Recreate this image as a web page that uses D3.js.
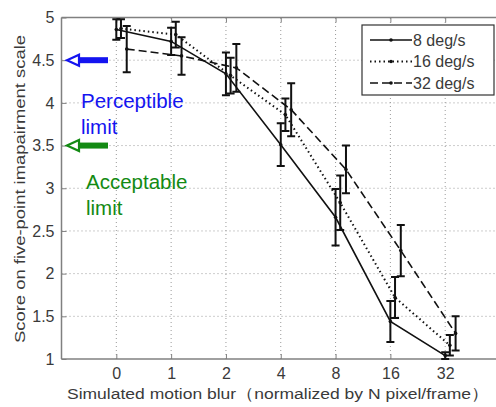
<!DOCTYPE html>
<html><head><meta charset="utf-8">
<script src="https://cdn.jsdelivr.net/npm/d3@7"></script>
<style>body{margin:0;background:#fff}svg{display:block}</style>
</head><body>
<script>
const categories = ["0","1","2","4","8","16","32"];
const yTicks = [1,1.5,2,2.5,3,3.5,4,4.5,5];
const seriesNames = ["8 deg/s","16 deg/s","32 deg/s"];
const mean8  = [4.86, 4.72, 4.34, 3.51, 2.66, 1.44, 1.04];
const err8   = [0.12, 0.16, 0.25, 0.25, 0.33, 0.24, 0.04];
const mean16 = [4.87, 4.80, 4.32, 3.86, 2.83, 1.72, 1.16];
const err16  = [0.11, 0.15, 0.21, 0.19, 0.32, 0.24, 0.12];
const mean32 = [4.63, 4.55, 4.41, 3.92, 3.22, 2.27, 1.30];
const err32  = [0.27, 0.22, 0.28, 0.31, 0.28, 0.30, 0.20];
const annotations = [
  {value:4.5, lines:["Perceptible","limit"], color:"#1414f0"},
  {value:3.5, lines:["Acceptable","limit"], color:"#138a13"}
];

const W=496,H=407;
const svg=d3.select("body").append("svg").attr("width",W).attr("height",H);
const x=d3.scaleLinear().domain([-1,7]).range([61.5,500]);
const y=d3.scaleLinear().domain([1,5]).range([359,17.5]);
const axisCol="#808080", txtCol="#3a3a3a";
const font="'Liberation Sans', Arial, sans-serif";

// grid
const g=svg.append("g");
g.selectAll(".gy").data(yTicks.filter(v=>v>1&&v<5)).enter().append("line")
 .attr("x1",x(-1)).attr("x2",W).attr("y1",d=>y(d)).attr("y2",d=>y(d))
 .attr("stroke","#9a9a9a").attr("stroke-width",1).attr("stroke-dasharray","1,3");
g.selectAll(".gx").data(d3.range(categories.length)).enter().append("line")
 .attr("x1",d=>x(d)).attr("x2",d=>x(d)).attr("y1",y(1)).attr("y2",y(5))
 .attr("stroke","#9a9a9a").attr("stroke-width",1).attr("stroke-dasharray","1,3");

// axes
const xAxis=d3.axisBottom(x).tickValues(d3.range(categories.length)).tickFormat(i=>categories[i]).tickSizeInner(-5).tickSizeOuter(0).tickPadding(9);
const ax=svg.append("g").attr("transform",`translate(0,${y(1)})`).call(xAxis);
const yAxis=d3.axisLeft(y).tickValues(yTicks).tickFormat(d3.format("")).tickSizeInner(-5).tickSizeOuter(0).tickPadding(7);
const ay=svg.append("g").attr("transform",`translate(${x(-1)},0)`).call(yAxis);
const xTop=d3.axisTop(x).tickValues(d3.range(categories.length)).tickFormat("").tickSizeInner(-5).tickSizeOuter(0);
const at=svg.append("g").attr("transform",`translate(0,${y(5)})`).call(xTop);
[ax,ay,at].forEach(a=>{
  a.select(".domain").attr("stroke",axisCol).attr("stroke-width",1.5);
  a.selectAll(".tick line").attr("stroke",axisCol).attr("stroke-width",1);
  a.selectAll(".tick text").attr("fill",txtCol).attr("font-family",font).attr("font-size",16);
});
ay.select(".domain").attr("d",`M0,${y(5)}V${y(1)}`);
ax.select(".domain").attr("d",`M${x(-1)},0H${W+5}`);
at.select(".domain").attr("d",`M${x(-1)},0H${W+5}`);

// axis labels
svg.append("text").attr("x",278).attr("y",399).attr("text-anchor","middle")
 .attr("font-family",font).attr("font-size",15.5).attr("fill",txtCol)
 .attr("textLength",422).attr("lengthAdjust","spacingAndGlyphs")
 .text("Simulated motion blur\uFF08normalized by N pixel/frame\uFF09");
svg.append("text").attr("transform","translate(25,189) rotate(-90)").attr("text-anchor","middle")
 .attr("font-family",font).attr("font-size",15.5).attr("fill",txtCol)
 .attr("textLength",308).attr("lengthAdjust","spacingAndGlyphs")
 .text("Score on five-point imapairment scale");

// series
const offsets=[0,0.085,0.19];
const dashes=[null,"1.5,3","8,4"];
const means=[mean8,mean16,mean32], errs=[err8,err16,err32];
means.forEach((m,s)=>{
  const pts=m.map((v,i)=>[x(i+offsets[s]),y(v)]);
  svg.append("path").attr("d",d3.line()(pts)).attr("fill","none").attr("stroke","#111")
   .attr("stroke-width",s===1?2:1.6).attr("stroke-dasharray",dashes[s]);
  const eg=svg.append("g");
  m.forEach((v,i)=>{
    const cx=x(i+offsets[s]), lo=y(v-errs[s][i]), hi=y(v+errs[s][i]);
    eg.append("path").attr("d",`M${cx},${lo}V${hi}M${cx-4},${lo}H${cx+4}M${cx-4},${hi}H${cx+4}`)
      .attr("stroke","#111").attr("stroke-width",2).attr("fill","none");
    eg.append("circle").attr("cx",cx).attr("cy",y(v)).attr("r",1.8).attr("fill","#111");
  });
});

// legend
const lg=svg.append("g");
lg.append("rect").attr("x",362).attr("y",25).attr("width",132).attr("height",70)
 .attr("fill","#fff").attr("stroke","#333").attr("stroke-width",1.2);
seriesNames.forEach((n,s)=>{
  const yy=40+s*21.5;
  lg.append("line").attr("x1",370).attr("x2",412).attr("y1",yy).attr("y2",yy)
   .attr("stroke","#111").attr("stroke-width",s===1?2:1.6).attr("stroke-dasharray",dashes[s]);
  lg.append("circle").attr("cx",391).attr("cy",yy).attr("r",1.8).attr("fill","#111");
  lg.append("text").attr("x",413).attr("y",yy+5.5).attr("font-family",font).attr("font-size",16)
   .attr("fill",txtCol).text(n);
});

// annotations
const ag=svg.append("g");
annotations.forEach((a,k)=>{
  const yy=y(a.value);
  ag.append("rect").attr("x",76).attr("y",yy-3).attr("width",32).attr("height",6).attr("fill",a.color);
  ag.append("path").attr("d",`M67,${yy}L79,${yy-5.5}L79,${yy+5.5}Z`).attr("fill","#fff")
   .attr("stroke",a.color).attr("stroke-width",2.2).attr("stroke-linejoin","miter");
  const tx=k===0?81:86, ty=k===0?108:189;
  a.lines.forEach((t,j)=>{
    ag.append("text").attr("x",tx).attr("y",ty+j*25.5).attr("font-family",font)
     .attr("font-size",20.5).attr("fill",a.color).text(t);
  });
});
</script>
</body></html>
